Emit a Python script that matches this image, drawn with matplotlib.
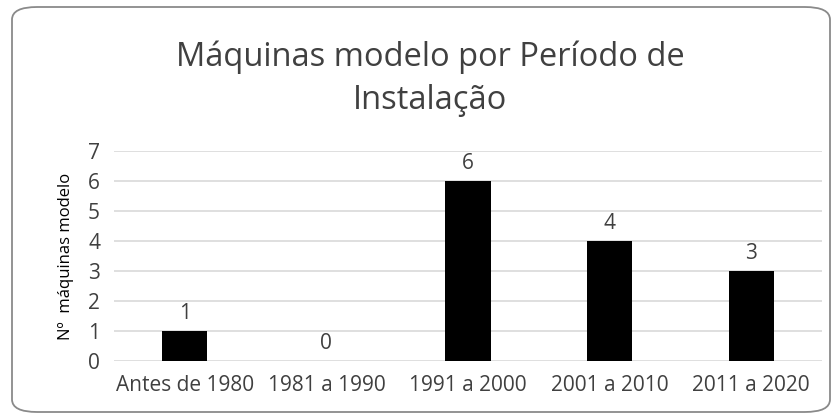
import matplotlib.pyplot as plt
from matplotlib.patches import FancyBboxPatch

plt.rcParams['font.family'] = ['Open Sans', 'DejaVu Sans']

# dados
periodos = ['Antes de 1980', '1981 a 1990', '1991 a 2000', '2001 a 2010', '2011 a 2020']
n_maquinas = [1, 0, 6, 4, 3]
y_ticks = [0, 1, 2, 3, 4, 5, 6, 7]

cinza_texto = '#404040'

fig = plt.figure(figsize=(8.39, 4.19), dpi=100)
ax = fig.add_axes([114/839, 1 - 361/419, (822-114)/839, (361-151)/419])

x = range(len(periodos))
barras = ax.bar(x, n_maquinas, width=0.32, color='black', zorder=3)
for xi, v in zip(x, n_maquinas):
    ax.text(xi, v + 0.22, str(v), ha='center', va='bottom', fontsize=15, color=cinza_texto)

ax.set_xlim(-0.5, len(periodos) - 0.5)
ax.set_ylim(0, 7)
ax.set_yticks(y_ticks)
ax.set_xticks(list(x))
ax.set_xticklabels(periodos)
ax.tick_params(axis='both', length=0, labelsize=15, labelcolor=cinza_texto)
ax.tick_params(axis='x', pad=10)
ax.tick_params(axis='y', pad=10)
ax.grid(axis='y', color='#d9d9d9', linewidth=1.2, zorder=0)
for s in ax.spines.values():
    s.set_visible(False)
ax.set_ylabel('Nº  máquinas modelo', fontsize=12, color='black', labelpad=10)

fig.text(430/839, 1 - 79/419, 'Máquinas modelo por Período de\nInstalação', ha='center', va='center',
         fontsize=23.5, color=cinza_texto, linespacing=1.4)

# moldura arredondada
moldura = FancyBboxPatch((12/839, 7/419), (830-12)/839, (412-7)/419,
                         boxstyle='round,pad=0,rounding_size=0.03', transform=fig.transFigure,
                         facecolor='none', edgecolor='#8a8a8a', linewidth=1.3)
fig.patches.append(moldura)

fig.savefig('out.png', dpi=100)
